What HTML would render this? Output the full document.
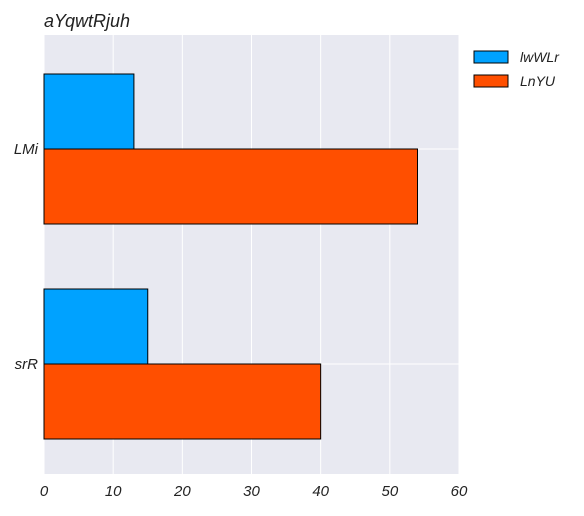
<!DOCTYPE html>
<html><head><meta charset="utf-8"><style>
body{margin:0;background:#fff;}
text{font-family:"Liberation Sans",sans-serif;font-style:italic;}
</style></head><body>
<svg id="chart" width="584" height="511" xmlns="http://www.w3.org/2000/svg">
<text x="44" y="27" font-size="18" fill="#222">aYqwtRjuh</text>
<rect x="44" y="35" width="415" height="439" fill="#e8e9f1"/>
<g id="grid"></g><g id="bars"></g><g id="labels"></g>
<g>
<rect x="474" y="51" width="34" height="12" fill="#00a2ff" stroke="#000" stroke-width="1"/>
<text x="520" y="62" font-size="14" fill="#222">lwWLr</text>
<rect x="474" y="75" width="34" height="12" fill="#ff4f00" stroke="#000" stroke-width="1"/>
<text x="520" y="86" font-size="14" fill="#222">LnYU</text>
</g>
</svg>
<script>
const categories=["LMi","srR"];
const seriesNames=["lwWLr","LnYU"];
const seriesA=[13,15];
const seriesB=[54,40];
const xTicks=[0,10,20,30,40,50,60];
const colors=["#00a2ff","#ff4f00"];
const NS="http://www.w3.org/2000/svg";
const x=v=>44+v*(415/60);
const yc=i=>149+i*215;
const bh=75;
function mk(tag,attrs,parent){const e=document.createElementNS(NS,tag);for(const k in attrs)e.setAttribute(k,attrs[k]);document.getElementById(parent).appendChild(e);return e;}
xTicks.forEach(t=>{
 const l=mk('line',{x1:x(t),x2:x(t),y1:35,y2:474,stroke:'#fff','stroke-width':1},'grid');
 
 
 const tx=mk('text',{x:x(t),y:496,'font-size':15,'text-anchor':'middle',fill:'#222'},'labels');
 tx.textContent=t;
 
 
});
categories.forEach((c,i)=>{
 const l=mk('line',{x1:44,x2:459,y1:yc(i),y2:yc(i),stroke:'#fff','stroke-width':1},'grid');
 
 
 const a=mk('rect',{x:x(0),y:yc(i)-bh,width:x(seriesA[i])-x(0),height:bh,fill:colors[0],stroke:'#000','stroke-width':1},'bars');
 
 
 const b=mk('rect',{x:x(0),y:yc(i),width:x(seriesB[i])-x(0),height:bh,fill:colors[1],stroke:'#000','stroke-width':1},'bars');
 
 
 const tx=mk('text',{x:38,y:yc(i)+5,'font-size':15,'text-anchor':'end',fill:'#222'},'labels');
 tx.textContent=c;
 
 
});
</script>
</body></html>
